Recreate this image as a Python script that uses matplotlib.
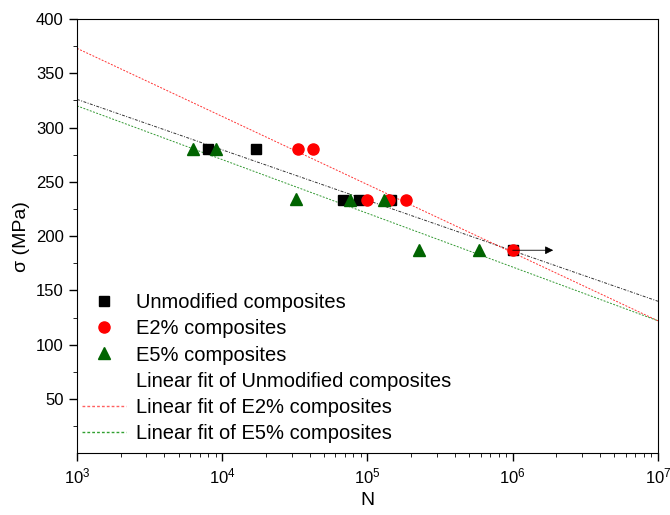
import numpy as np
import matplotlib.pyplot as plt
from matplotlib.lines import Line2D

plt.rcParams['font.family'] = ['Liberation Sans', 'DejaVu Sans']

# dados
n_unmod = [8000, 17000, 68000, 87000, 145000, 1.0e6]
s_unmod = [280, 280, 233, 233, 233, 187]
n_e2 = [33000, 42000, 100000, 140000, 185000, 1.0e6]
s_e2 = [280, 280, 233, 233, 233, 187]
n_e5 = [6300, 9000, 32000, 76000, 130000, 225000, 590000]
s_e5 = [280, 280, 234, 233, 233, 187, 187]

# ajuste linear: sigma = a + b*log10(N)
fit_a = [326 + 46.5 * 3, 373 + 62.75 * 3, 320 + 49.5 * 3]
fit_b = [-46.5, -62.75, -49.5]
fit_cores = ['black', 'red', 'green']
fit_estilos = [(0, (3, 1.5, 1, 1.5)), (0, (2, 1.5)), (0, (2, 1.5))]

# run-out
runout_n = [1.0e6, 1.9e6]
runout_s = [187, 187]

fig, ax = plt.subplots(figsize=(6.7, 5.15), dpi=100)
fig.subplots_adjust(left=0.115, right=0.982, top=0.963, bottom=0.12)

nn = np.logspace(3, 7, 200)
for a, b, c, ls in zip(fit_a, fit_b, fit_cores, fit_estilos):
    ax.plot(nn, a + b * np.log10(nn), color=c, lw=0.7, ls=ls, alpha=0.8)

ax.annotate('', xy=(runout_n[1], runout_s[1]), xytext=(runout_n[0], runout_s[0]),
            arrowprops=dict(arrowstyle='-|>', color='black', lw=0.6,
                            mutation_scale=12, shrinkA=0, shrinkB=0))

ax.plot(n_unmod, s_unmod, 's', color='black', ms=7, ls='none')
ax.plot(n_e2, s_e2, 'o', color='red', ms=8, ls='none')
ax.plot(n_e5, s_e5, '^', color='#006400', ms=9, ls='none')

ax.set_xscale('log')
ax.set_xlim(1e3, 1e7)
ax.set_ylim(0, 400)
ax.set_yticks([50, 100, 150, 200, 250, 300, 350, 400])
ax.set_yticks(np.arange(25, 400, 50), minor=True)
ax.tick_params(labelsize=12, direction='out', length=6, width=1)
ax.tick_params(which='minor', length=3)
ax.set_xlabel('N', fontsize=14)
ax.set_ylabel('σ (MPa)', fontsize=14)

handles = [
    Line2D([], [], marker='s', color='black', ls='none', ms=7),
    Line2D([], [], marker='o', color='red', ls='none', ms=8),
    Line2D([], [], marker='^', color='#006400', ls='none', ms=8),
    Line2D([], [], color='white', lw=1),
    Line2D([], [], color='#ff6060', lw=1, ls=(0, (2, 1.5))),
    Line2D([], [], color='#30a030', lw=1, ls=(0, (2, 1.5))),
]
labels = ['Unmodified composites', 'E2% composites', 'E5% composites',
          'Linear fit of Unmodified composites', 'Linear fit of E2% composites',
          'Linear fit of E5% composites']
ax.legend(handles, labels, loc='lower left', bbox_to_anchor=(-0.012, -0.005),
          frameon=False, fontsize=14.5, labelspacing=0.36, handlelength=2.2,
          handletextpad=0.45, borderaxespad=0.2)

fig.savefig('out.png')
